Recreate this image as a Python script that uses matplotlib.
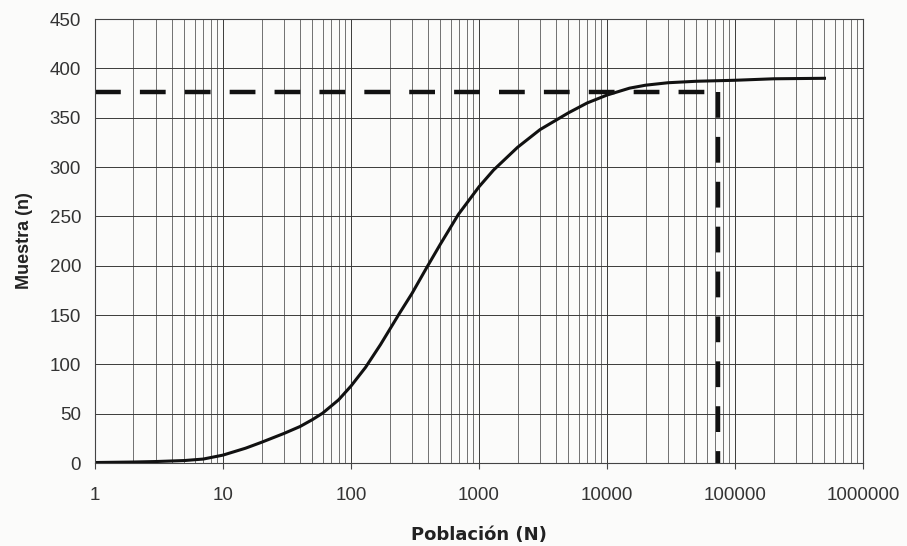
import numpy as np
import matplotlib.pyplot as plt
from matplotlib.ticker import FixedLocator, NullFormatter

# Datos
poblacion = [1, 2, 3, 5, 7, 10, 15, 20, 30, 40, 50, 60, 80, 100, 130, 170,
             240, 300, 390, 500, 690, 1000, 1300, 2000, 3000, 5000, 7000,
             10000, 15000, 20000, 30000, 50000, 100000, 200000, 500000]
muestra = [0.5, 1, 1.5, 2.5, 4, 8, 15, 21, 30, 37, 44, 50.5, 64, 78, 97, 120,
           152, 172, 198, 222, 252, 280, 297, 320, 338, 355, 365,
           373, 380, 383, 385.5, 387, 388, 389.5, 390]

# Línea de referencia (discontinua)
ref_n = 376
ref_N = 73000

x_ticks = [1, 10, 100, 1000, 10000, 100000, 1000000]
x_tick_labels = ["1", "10", "100", "1000", "10000", "100000", "1000000"]
y_ticks = [0, 50, 100, 150, 200, 250, 300, 350, 400, 450]

fig = plt.figure(figsize=(9.07, 5.46), dpi=100)
fig.patch.set_facecolor("#fbfbfa")
ax = fig.add_axes([0.1047, 0.152, 0.8468, 0.813])
ax.set_facecolor("#fbfbfa")

ax.set_xscale("log")
ax.set_xlim(1, 1000000)
ax.set_ylim(0, 450)

# rejilla
ax.set_xticks(x_ticks)
ax.set_xticklabels(x_tick_labels)
minors = [m * 10**d for d in range(6) for m in range(2, 10)]
ax.xaxis.set_minor_locator(FixedLocator(minors))
ax.xaxis.set_minor_formatter(NullFormatter())
ax.set_yticks(y_ticks)
ax.grid(True, which="major", color="#3a3a3a", linewidth=0.7)
ax.grid(True, which="minor", axis="x", color="#5a5a5a", linewidth=0.6)
ax.set_axisbelow(True)

# curva
ax.plot(poblacion, muestra, color="#111111", linewidth=2.2,
        solid_joinstyle="round")

# líneas discontinuas
ax.plot([1, ref_N], [ref_n, ref_n], color="#111111", linewidth=3.2,
        dashes=(5.8, 4.3))
ax.plot([ref_N, ref_N], [ref_n, 0], color="#111111", linewidth=3.2,
        dashes=(5.8, 4.3))

for s in ax.spines.values():
    s.set_color("#444444")
    s.set_linewidth(0.8)

ax.tick_params(axis="both", which="major", length=4, color="#444444",
               labelsize=13.5, labelcolor="#333333")
ax.tick_params(axis="x", which="major", pad=13)
ax.tick_params(axis="y", which="major", pad=10, length=0)
ax.tick_params(axis="x", which="minor", length=0)
for lab in ax.get_xticklabels() + ax.get_yticklabels():
    lab.set_fontfamily("Liberation Sans")

ax.set_xlabel("Población (N)", fontsize=13, fontweight="bold",
              fontfamily="DejaVu Sans", color="#222222", labelpad=16)
ax.set_ylabel("Muestra (n)", fontsize=13, fontweight="bold",
              fontfamily="Liberation Sans", color="#222222", labelpad=12)

plt.savefig("out.png", dpi=100, facecolor=fig.get_facecolor())
